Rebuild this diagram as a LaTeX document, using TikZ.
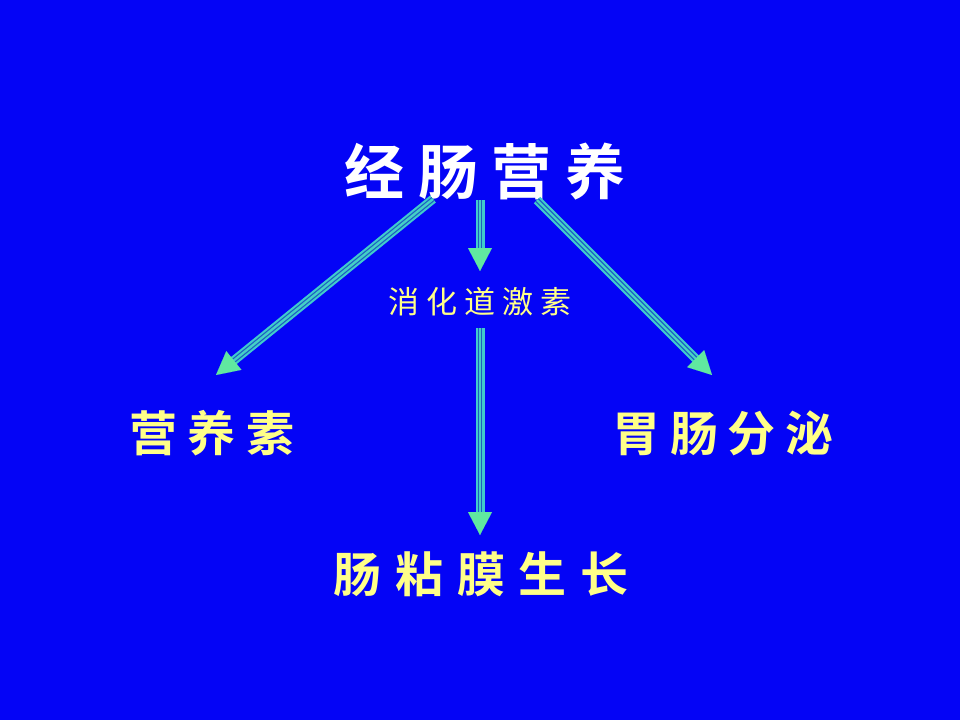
\documentclass[tikz,border=0pt]{standalone}
\usepackage{fontspec}
\usetikzlibrary{arrows.meta}
\newfontfamily\cjk{Noto Sans CJK SC}[BoldFont={Noto Sans CJK SC Bold}]
\definecolor{bgblue}{RGB}{4,4,246}
\definecolor{txtyellow}{RGB}{255,255,136}
\definecolor{shaftcyan}{RGB}{64,204,204}
\definecolor{shaftdark}{RGB}{30,96,190}
\definecolor{headgreen}{RGB}{96,232,160}
\tikzset{
  lbl/.style={inner sep=0pt, font=\cjk\bfseries},
  shaft/.style={line width=9pt, shaftcyan},
  shaftlines/.style={line width=1.2pt, shaftdark, double=shaftcyan, double distance=2.4pt},
  headtip/.style={line width=0.01pt, headgreen, -{Triangle[width=24pt,length=23pt,fill=headgreen]}},
}
\newcommand{\fatarrow}[2]{%
  \draw[shaft, shorten >=21pt] (#1) -- (#2);
  \draw[shaftlines, shorten >=21pt] (#1) -- (#2);
  \draw[headtip] (#1) -- (#2);
}
\begin{document}
\begin{tikzpicture}[x=1pt,y=-1pt]
\fill[bgblue] (0,0) rectangle (960,720);
\useasboundingbox (0,0) rectangle (960,720);

\node[lbl, white, font=\cjk\bfseries\fontsize{60}{64}\selectfont\addfontfeature{LetterSpace=23}] (t) at (485,172) {经肠营养};
\node[lbl, txtyellow, font=\cjk\fontsize{31}{35}\selectfont\addfontfeature{LetterSpace=22}] (h) at (480,302) {消化道激素};
\node[lbl, txtyellow, font=\cjk\bfseries\fontsize{48}{52}\selectfont\addfontfeature{LetterSpace=22}] (l) at (212,433) {营养素};
\node[lbl, txtyellow, font=\cjk\bfseries\fontsize{48}{52}\selectfont\addfontfeature{LetterSpace=20}] (r) at (723,433) {胃肠分泌};
\node[lbl, txtyellow, font=\cjk\bfseries\fontsize{48}{52}\selectfont\addfontfeature{LetterSpace=29}] (b) at (481,574) {肠粘膜生长};

\coordinate (ls) at (433,199);
\coordinate (le) at (216,375);
\coordinate (rs) at (537,200);
\coordinate (re) at (712,375);
\coordinate (ms) at (480,200);
\coordinate (me) at (480,271);
\coordinate (ns) at (480,328);
\coordinate (ne) at (480,535);

\fatarrow{ls}{le}
\fatarrow{rs}{re}
\fatarrow{ms}{me}
\fatarrow{ns}{ne}
\end{tikzpicture}
\end{document}
